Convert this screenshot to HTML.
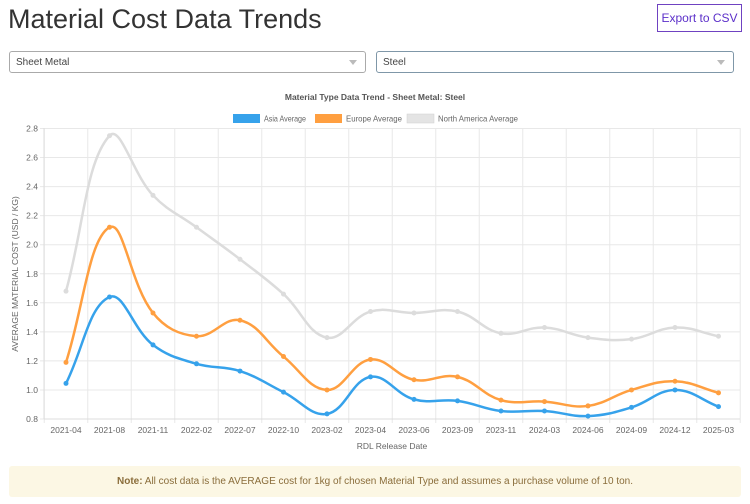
<!DOCTYPE html>
<html><head><meta charset="utf-8"><style>
body{margin:0;width:750px;height:504px;background:#fff;font-family:"Liberation Sans",sans-serif;position:relative;overflow:hidden}
.t{position:absolute;left:8px;top:4px;font-size:27px;color:#333;font-weight:300}
.btn{position:absolute;left:657px;top:4px;width:85px;height:28px;border:1px solid #6f42c1;box-sizing:border-box;color:#5b2fc9;font-size:12px;text-align:center;line-height:26px;white-space:nowrap}
.sel{position:absolute;top:51px;height:22px;border:1px solid #aaa;border-radius:3px;box-sizing:border-box;font-size:10px;color:#444;padding-left:6px;line-height:21px}
.sel:after{content:"";position:absolute;right:8px;top:8px;border-left:4px solid transparent;border-right:4px solid transparent;border-top:5px solid #bbb}
.note{position:absolute;left:9px;top:466px;width:732px;height:31px;background:#fcf7e4;border-radius:3px;color:#8a6d3b;font-size:10px;text-align:center;line-height:31px}
</style></head><body>
<div class="t">Material Cost Data Trends</div>
<div class="btn">Export to CSV</div>
<div class="sel" style="left:9px;width:357px">Sheet Metal</div>
<div class="sel" style="left:376px;width:358px;border-color:#7f97a8">Steel</div>
<svg id="s" width="750" height="504" style="position:absolute;left:0;top:0" font-family="Liberation Sans, sans-serif">
<text x="375" y="100" text-anchor="middle" font-size="8.5" font-weight="bold" fill="#555">Material Type Data Trend - Sheet Metal: Steel</text>
<rect x="233" y="114" width="27" height="9" fill="#36a2eb"/><text x="264" y="121.5" font-size="8.5" fill="#666" textLength="42" lengthAdjust="spacingAndGlyphs">Asia Average</text>
<rect x="315" y="114" width="27" height="9" fill="#ff9f40"/><text x="346" y="121.5" font-size="8.5" fill="#666" textLength="56" lengthAdjust="spacingAndGlyphs">Europe Average</text>
<rect x="407" y="114" width="27" height="9" fill="#e4e4e4" stroke="#d0d0d0" stroke-width="0.5"/><text x="438" y="121.5" font-size="8.5" fill="#666" textLength="80" lengthAdjust="spacingAndGlyphs">North America Average</text>
<g id="grid" stroke="#e8e8e8" stroke-width="1"></g>
<g font-size="8.5" fill="#666" text-anchor="end">
<text x="38" y="131.5">2.8</text><text x="38" y="160.5">2.6</text><text x="38" y="189.5">2.4</text><text x="38" y="218.5">2.2</text><text x="38" y="247.5">2.0</text><text x="38" y="277">1.8</text><text x="38" y="306">1.6</text><text x="38" y="335">1.4</text><text x="38" y="364">1.2</text><text x="38" y="393">1.0</text><text x="38" y="422">0.8</text>
</g>
<g font-size="8.5" fill="#666" text-anchor="middle" id="xl">
<text x="66" y="433">2021-04</text><text x="109.5" y="433">2021-08</text><text x="153" y="433">2021-11</text><text x="196.5" y="433">2022-02</text><text x="240" y="433">2022-07</text><text x="283.5" y="433">2022-10</text><text x="327" y="433">2023-02</text><text x="370.5" y="433">2023-04</text><text x="414" y="433">2023-06</text><text x="457.5" y="433">2023-09</text><text x="501" y="433">2023-11</text><text x="544.5" y="433">2024-03</text><text x="588" y="433">2024-06</text><text x="631.5" y="433">2024-09</text><text x="675" y="433">2024-12</text><text x="718.5" y="433">2025-03</text>
</g>
<text x="392" y="449" text-anchor="middle" font-size="8.5" fill="#666">RDL Release Date</text>
<text transform="translate(18,274) rotate(-90)" text-anchor="middle" font-size="8.5" fill="#666">AVERAGE MATERIAL COST (USD / KG)</text>
<g id="lines"></g>
</svg>
<div class="note"><b>Note:</b> All cost data is the AVERAGE cost for 1kg of chosen Material Type and assumes a purchase volume of 10 ton.</div>
<script>
var g=document.getElementById('grid'),L=document.getElementById('lines'),ns='http://www.w3.org/2000/svg';
function el(p,t,a){var e=document.createElementNS(ns,t);for(var k in a)e.setAttribute(k,a[k]);p.appendChild(e);return e;}
for(var i=0;i<11;i++){var y=128.5+i*29.05;el(g,'line',{x1:40,x2:740,y1:y,y2:y});}
for(var i=0;i<17;i++){var x=44.25+i*43.5;el(g,'line',{x1:x,x2:x,y1:128,y2:423});}
el(g,'line',{x1:44,x2:44,y1:128,y2:419,stroke:'#ddd'});el(g,'line',{x1:44,x2:740,y1:419,y2:419,stroke:'#ddd'});
var D=[[[1.68,2.75,2.34,2.12,1.90,1.66,1.36,1.54,1.53,1.54,1.39,1.43,1.36,1.35,1.43,1.37],'#dcdcdc'],
[[1.19,2.12,1.53,1.37,1.48,1.23,1.00,1.21,1.07,1.09,0.93,0.92,0.89,1.00,1.06,0.98],'#ff9f40'],
[[1.045,1.64,1.31,1.18,1.13,0.985,0.835,1.09,0.935,0.925,0.855,0.855,0.82,0.88,1.00,0.885],'#36a2eb']];
D.forEach(function(s){var P=s[0].map(function(v,i){return [66+i*43.5,419-(v-0.8)*145.25];});
var t=0.4,c=[];for(var i=0;i<P.length;i++){var p=P[i-1]||P[i],n=P[i+1]||P[i],q=P[i];
var d1=Math.hypot(q[0]-p[0],q[1]-p[1]),d2=Math.hypot(n[0]-q[0],n[1]-q[1]);var s1=d1/(d1+d2)||0,s2=d2/(d1+d2)||0;
c.push([[q[0]-t*s1*(n[0]-p[0]),q[1]-t*s1*(n[1]-p[1])],[q[0]+t*s2*(n[0]-p[0]),q[1]+t*s2*(n[1]-p[1])]]);}
var d='M'+P[0];for(var i=1;i<P.length;i++)d+=' C'+c[i-1][1]+' '+c[i][0]+' '+P[i];
el(L,'path',{d:d,fill:'none',stroke:s[1],'stroke-width':2.5});
P.forEach(function(q){el(L,'circle',{cx:q[0],cy:q[1],r:2.5,fill:s[1]});});});
</script>
</body></html>
